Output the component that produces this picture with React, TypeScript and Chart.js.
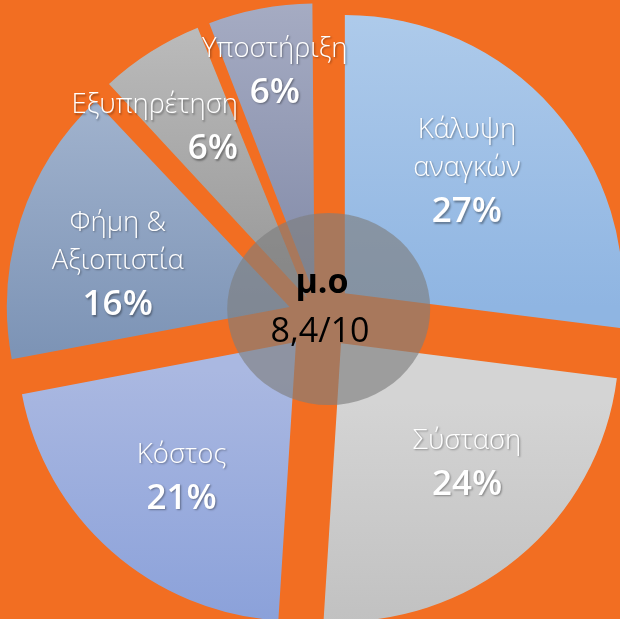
import React, { useEffect, useRef } from "react";
import { Chart, registerables } from "chart.js";

Chart.register(...registerables);

// ---- data ----
const categories = [
  ["Κάλυψη", "αναγκών"],
  ["Σύσταση"],
  ["Κόστος"],
  ["Φήμη &", "Αξιοπιστία"],
  ["Εξυπηρέτηση"],
  ["Υποστήριξη"],
];
const shares = [27, 24, 21, 16, 6, 6];
const centerTitle = "μ.ο";
const centerValue = "8,4/10";

// ---- styles ----
const ORANGE = "#F26E22";
const sliceGradients: [string, string, number, number][] = [
  ["#B0CCEB", "#8FB5E2", 15, 330],
  ["#D4D4D4", "#BFBFBF", 375, 619],
  ["#AAB8E1", "#889FD9", 345, 619],
  ["#A0B2CD", "#7D94B6", 115, 360],
  ["#BDBDBD", "#9A9A9A", 30, 290],
  ["#A7ADC4", "#858DAA", 10, 285],
];
const EXPLODE = 35.2;
const RADIUS = 278;
const LABEL_DIST = 207;
// per-slice label nudges [dx, dy, align]
const labelNudges: [number, number, CanvasTextAlign][] = [
  [-7, -8, "center"],
  [16.5, -13, "center"],
  [0, 5.5, "center"],
  [-4, 12, "center"],
  [30.4, -14, "right"],
  [-5, -42, "center"],
];
const NAME_FONT = '300 27.5px "Open Sans", "DejaVu Sans", sans-serif';
const PCT_FONT = '600 35px "Open Sans", "DejaVu Sans", sans-serif';

const labelPlugin = {
  id: "sliceLabels",
  afterDatasetsDraw(chart: any) {
    const ctx: CanvasRenderingContext2D = chart.ctx;
    const meta = chart.getDatasetMeta(0);
    meta.data.forEach((el: any, i: number) => {
      const mid = (el.startAngle + el.endAngle) / 2;
      const [dx, dy, align] = labelNudges[i];
      const ax = el.x + Math.cos(mid) * LABEL_DIST + dx;
      const ay = el.y + Math.sin(mid) * LABEL_DIST + dy;
      const names = categories[i];
      const ys: number[] = [];
      names.forEach((_, j) => ys.push(j * 38));
      ys.push((names.length - 1) * 38 + 44);
      const span = ys[ys.length - 1];
      ctx.save();
      ctx.fillStyle = "#FFFFFF";
      ctx.textAlign = align;
      ctx.textBaseline = "middle";
      ctx.shadowColor = "rgba(0,0,0,0.35)";
      ctx.shadowBlur = 2;
      ctx.shadowOffsetX = 1.2;
      ctx.shadowOffsetY = 1.2;
      names.forEach((n, j) => {
        ctx.font = NAME_FONT;
        ctx.fillText(n, ax, ay - span / 2 + ys[j]);
      });
      ctx.font = PCT_FONT;
      ctx.fillText(shares[i] + "%", ax, ay - span / 2 + ys[ys.length - 1]);
      ctx.restore();
    });
  },
};

const centerPlugin = {
  id: "centerBadge",
  afterDraw(chart: any) {
    const ctx: CanvasRenderingContext2D = chart.ctx;
    const cx = 328.7;
    const cy = 309;
    ctx.save();
    ctx.beginPath();
    ctx.ellipse(cx, cy, 101.5, 96, 0, 0, Math.PI * 2);
    ctx.fillStyle = "rgba(126,126,126,0.635)";
    ctx.fill();
    ctx.fillStyle = "#000000";
    ctx.textAlign = "center";
    ctx.textBaseline = "middle";
    ctx.font = '700 34px "Open Sans", "DejaVu Sans", sans-serif';
    ctx.fillText(centerTitle, 322, 283);
    ctx.font = '400 34px "Open Sans", "DejaVu Sans", sans-serif';
    ctx.fillText(centerValue, 320, 332);
    ctx.restore();
  },
};

export default function App() {
  const ref = useRef<HTMLCanvasElement | null>(null);
  useEffect(() => {
    if (!ref.current) return;
    const total = shares.reduce((a, b) => a + b, 0);
    const chart = new Chart(ref.current, {
      type: "pie",
      data: {
        labels: categories.map((c) => c.join(" ")),
        datasets: [
          {
            data: shares,
            borderWidth: 0,
            radius: RADIUS,
            clip: false,
            backgroundColor: (c: any) => {
              const [top, bottom, y0, y1] = sliceGradients[c.dataIndex];
              const g = c.chart.ctx.createLinearGradient(0, y0, 0, y1);
              g.addColorStop(0, top);
              g.addColorStop(1, bottom);
              return g;
            },
            offset: (c: any) => {
              const circ = (shares[c.dataIndex] / total) * Math.PI * 2;
              return (4 * EXPLODE) / (2 - Math.sin(Math.min(Math.PI, circ)));
            },
          } as any,
        ],
      },
      options: {
        responsive: false,
        maintainAspectRatio: false,
        animation: false,
        layout: { padding: { left: 17.2, top: 13.6, right: 0, bottom: 0 } },
        plugins: {
          legend: { display: false },
          tooltip: { enabled: false },
        },
      },
      plugins: [labelPlugin, centerPlugin],
    });
    return () => chart.destroy();
  }, []);
  return (
    <div
      style={{
        position: "fixed",
        left: 0,
        top: 0,
        width: 620,
        height: 619,
        background: ORANGE,
        overflow: "hidden",
      }}
    >
      <canvas ref={ref} width={620} height={619} style={{ display: "block" }} />
    </div>
  );
}
